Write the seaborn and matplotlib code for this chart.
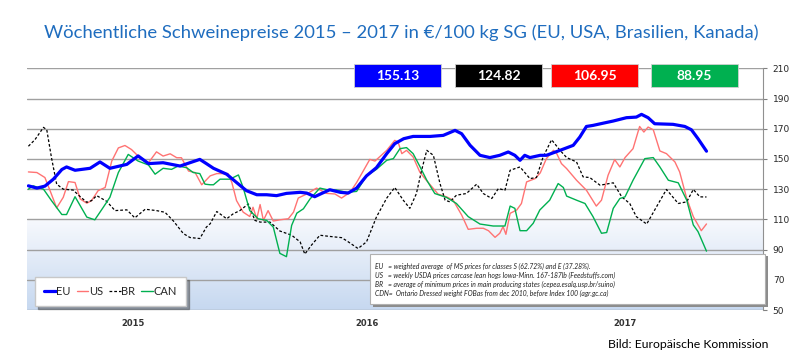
import numpy as np
import pandas as pd
import seaborn as sns
import matplotlib.pyplot as plt
from matplotlib.patches import Rectangle
from matplotlib.colors import LinearSegmentedColormap
from matplotlib.lines import Line2D

# weekly prices, x = weeks since start of 2015
eu_weeks = [0.3, 2.1, 3.8, 5.6, 7.4, 8.4, 10.2, 13.4, 15.5, 17.6, 21.2, 23.6, 25.8, 28.9, 32.5,
            34.6, 36.7, 38.1, 39.6, 42.4, 44.5, 46.6, 48.8, 50.9, 53.0, 55.1, 58.0, 59.4, 61.1,
            62.6, 64.3, 66.5, 68.2, 70.0, 72.1, 74.2, 76.4, 78.1, 80.0, 82.0, 85.6, 88.4, 90.9,
            92.3, 94.1, 96.2, 98.3, 100.4, 102.2, 103.6, 104.7, 105.7, 106.8, 109.0, 110.3,
            113.2, 116.0, 117.4, 118.8, 120.2, 122.4, 124.5, 127.3, 129.4, 130.5, 131.9, 133.3,
            137.2, 139.7, 141.1, 142.5, 144.3]
eu_values = [132.2, 130.7, 132.0, 136.6, 143.0, 144.7, 142.5, 143.8, 148.0, 143.8, 146.4, 152.0,
             146.9, 147.5, 145.3, 147.5, 149.7, 146.9, 143.8, 139.9, 134.4, 129.0, 126.3, 126.3,
             125.7, 127.2, 127.9, 127.4, 125.0, 127.2, 129.6, 127.9, 127.4, 130.7, 138.8, 144.2,
             153.5, 160.1, 163.4, 164.9, 164.9, 165.6, 168.9, 166.7, 159.0, 152.4, 150.9, 152.4,
             154.6, 152.4, 149.1, 152.4, 150.9, 152.4, 152.4, 155.7, 159.0, 164.5, 171.5, 172.2,
             173.7, 175.1, 177.3, 177.7, 179.5, 177.3, 173.3, 172.9, 171.5, 169.3, 163.4, 155.13]

us_weeks = [0.3, 2.1, 3.8, 4.9, 6.3, 7.7, 8.8, 10.2, 11.3, 12.7, 13.7, 15.1, 16.6, 18.0, 19.4,
            20.8, 22.2, 23.6, 25.8, 27.5, 28.9, 30.4, 31.8, 32.8, 34.3, 35.7, 37.1, 38.9, 40.3,
            42.7, 43.5, 44.5, 45.9, 47.3, 48.0, 48.8, 49.5, 50.2, 51.2, 52.3, 53.7, 55.5, 56.6,
            57.6, 59.4, 61.5, 63.6, 65.4, 66.8, 68.6, 70.0, 71.4, 72.8, 73.9, 76.4, 78.1, 78.8,
            79.6, 80.6, 82.0, 83.4, 84.5, 86.3, 87.3, 89.1, 90.5, 92.3, 93.7, 95.5, 96.9, 98.0,
            99.4, 100.4, 101.1, 101.7, 102.6, 104.0, 105.0, 106.1, 107.9, 109.0, 110.3, 111.8,
            112.5, 113.5, 114.6, 116.7, 118.8, 120.9, 122.0, 123.4, 124.8, 125.9, 127.0, 128.7,
            130.1, 131.0, 131.9, 133.0, 134.4, 135.8, 137.6, 138.6, 140.1, 141.5, 143.2, 144.3]
us_values = [141.4, 141.0, 137.7, 129.0, 117.6, 124.6, 135.0, 134.4, 123.5, 120.7, 122.4, 129.0,
             131.1, 148.6, 157.3, 158.9, 156.2, 151.9, 147.5, 154.7, 151.9, 153.4, 150.8, 150.8,
             142.0, 141.0, 132.9, 138.8, 140.3, 140.3, 134.4, 122.4, 114.8, 111.9, 118.0, 110.4,
             119.8, 109.3, 115.8, 108.9, 109.7, 110.4, 114.8, 124.1, 126.8, 130.7, 127.2, 126.8,
             124.1, 127.9, 134.4, 142.0, 149.7, 148.6, 155.7, 162.3, 161.2, 153.5, 155.7, 151.3,
             141.4, 137.0, 130.4, 126.7, 124.9, 122.7, 112.9, 103.4, 104.1, 104.1, 102.5, 98.1,
             100.8, 105.2, 100.1, 114.0, 116.2, 120.5, 134.8, 137.0, 140.8, 150.2, 155.7, 153.5,
             146.9, 143.6, 135.9, 129.3, 118.8, 122.7, 139.2, 149.6, 144.7, 150.9, 156.8, 171.5,
             167.8, 171.1, 169.3, 155.3, 153.5, 148.0, 141.4, 123.8, 111.8, 102.5, 106.95]

br_weeks = [0.3, 1.7, 3.5, 4.2, 5.2, 6.3, 7.7, 9.8, 11.3, 12.7, 13.7, 14.8, 16.9, 18.7, 21.2,
            22.9, 25.1, 27.5, 29.3, 31.1, 33.2, 34.6, 36.7, 38.1, 38.9, 40.3, 42.4, 43.8, 45.2,
            47.0, 48.4, 49.5, 51.6, 53.7, 56.2, 58.0, 59.0, 60.4, 62.2, 64.0, 66.8, 67.9, 70.3,
            72.1, 74.2, 76.4, 78.1, 79.9, 81.3, 82.7, 83.8, 84.9, 86.3, 87.7, 88.8, 89.8, 91.2,
            93.3, 95.5, 96.9, 98.7, 100.1, 101.5, 102.6, 104.7, 106.8, 108.2, 109.6, 111.4,
            113.2, 114.6, 116.7, 118.1, 119.5, 121.7, 124.5, 126.3, 128.0, 129.4, 131.6, 133.7,
            135.8, 138.3, 140.1, 141.5, 142.9, 144.3]
br_values = [158.4, 162.8, 170.9, 169.3, 150.8, 133.3, 130.0, 129.4, 125.0, 121.3, 122.4, 125.7,
             122.0, 115.8, 116.3, 111.0, 116.7, 115.8, 114.7, 108.9, 100.6, 98.0, 97.3, 104.9,
             107.1, 115.2, 110.4, 113.7, 115.8, 120.2, 109.3, 108.2, 108.2, 102.3, 99.5, 95.1,
             87.0, 92.9, 99.5, 98.8, 97.9, 95.8, 90.7, 95.1, 111.5, 124.1, 131.1, 122.7, 117.3,
             127.1, 142.5, 155.7, 152.4, 133.7, 122.7, 121.6, 126.0, 127.1, 133.3, 127.1, 123.8,
             130.4, 129.3, 142.5, 144.7, 137.0, 137.7, 151.3, 162.7, 155.7, 150.9, 148.0, 138.1,
             137.7, 132.6, 134.2, 124.9, 120.5, 111.8, 106.9, 118.4, 129.8, 120.5, 121.6, 129.8,
             124.9, 124.82]

can_weeks = [0.3, 1.3, 3.5, 5.2, 7.4, 8.4, 10.2, 12.7, 14.4, 16.2, 17.6, 19.4, 21.5, 23.6, 25.8,
             27.2, 28.9, 30.7, 32.1, 33.9, 35.3, 36.7, 37.8, 38.9, 39.6, 41.0, 43.1, 44.9, 45.9,
             47.3, 49.1, 50.9, 52.3, 53.7, 55.1, 56.2, 57.3, 58.7, 60.1, 62.2, 64.0, 65.7, 67.9,
             70.0, 72.1, 74.2, 76.4, 77.8, 79.2, 80.6, 82.0, 83.4, 84.9, 86.6, 89.1, 91.2, 93.7,
             96.2, 99.0, 101.5, 102.6, 103.6, 104.7, 106.1, 107.5, 108.9, 111.0, 112.8, 113.9,
             114.6, 116.7, 118.5, 120.2, 122.0, 123.1, 124.5, 125.9, 127.0, 128.7, 131.2, 133.0,
             134.4, 136.2, 138.3, 140.1, 141.5, 142.5, 144.3]
can_values = [130.0, 132.2, 130.0, 122.4, 113.2, 113.2, 125.0, 111.5, 109.7, 118.0, 124.6, 141.0,
              153.0, 148.6, 146.0, 139.9, 143.8, 143.1, 145.3, 144.2, 141.0, 140.3, 133.3, 132.9,
              132.9, 136.6, 136.6, 139.4, 131.1, 115.8, 110.4, 109.3, 104.9, 87.5, 85.3, 106.0,
              114.1, 117.0, 123.5, 130.7, 129.4, 129.4, 127.9, 128.5, 138.8, 143.1, 149.1, 150.2,
              156.8, 157.5, 153.5, 145.2, 135.9, 127.1, 124.5, 120.5, 111.8, 106.9, 105.6, 105.6,
              118.8, 117.3, 102.5, 102.5, 107.4, 116.2, 122.7, 133.7, 131.1, 125.4, 122.7, 120.5,
              111.8, 100.8, 101.3, 117.3, 123.8, 124.9, 135.9, 150.2, 150.9, 144.7, 135.9, 134.2,
              122.7, 106.3, 101.9, 88.95]

latest = ["155.13", "124.82", "106.95", "88.95"]
year_labels = ["2015", "2016", "2017"]
year_label_pos = [22.5, 72.3, 127.0]
year_bounds = [0, 52.3, 104.2, 156.0]

notes = [
    "EU   = weighted average  of MS prices for classes S (62.72%) and E (37.28%).",
    "US   = weekly USDA prices carcase lean hogs Iowa-Minn. 167-187lb (Feedstuffs.com)",
    "BR   = average of minimum prices in main producing states (cepea.esalq.usp.br/suino)",
    "CDN=  Ontario Dressed weight FOBas from dec 2010, before Index 100 (agr.gc.ca)",
]

sns.set_style("white")
plt.rcParams["font.family"] = ["Lato", "DejaVu Sans"]

W, H = 800, 359
fig = plt.figure(figsize=(8, 3.59), dpi=100)
ax = fig.add_axes([27 / W, 1 - 310 / H, (763 - 27) / W, (310 - 68.3) / H])

# light blue gradient in the lower part of the plot (white at 110, blue at 50)
grad = np.linspace(0, 1, 100).reshape(-1, 1)
cmap = LinearSegmentedColormap.from_list("bg", ["#f7f9fd", "#c6d8f0"])
ax.imshow(grad, extent=[0, 156.3, 50, 110], origin="upper", aspect="auto", cmap=cmap,
          zorder=0)

sns.lineplot(x=us_weeks, y=us_values, ax=ax, color="#ff7373", lw=1.0, zorder=3)
sns.lineplot(x=br_weeks, y=br_values, ax=ax, color="black", lw=0.9, zorder=3,
             linestyle=(0, (2.2, 1.6)))
sns.lineplot(x=can_weeks, y=can_values, ax=ax, color="#00b050", lw=1.0, zorder=3)
sns.lineplot(x=eu_weeks, y=eu_values, ax=ax, color="#0000ff", lw=2.3, zorder=4)

ax.set_xlim(0, 156.3)
ax.set_ylim(50, 210)
ax.set_yticks(range(50, 211, 20))
ax.yaxis.tick_right()
ax.yaxis.grid(True, color="#a0a0a0", lw=1)
ax.tick_params(axis="y", length=3, color="#808080", labelsize=6.5, pad=4,
               labelfontfamily="DejaVu Sans")
for s in ["top", "left"]:
    ax.spines[s].set_visible(False)
ax.spines["right"].set_color("#909090")
ax.spines["bottom"].set_position(("outward", 5.5))
ax.spines["bottom"].set_visible(False)

ax.set_xticks(year_bounds)
ax.set_xticklabels([])
ax.set_xticks(year_label_pos, minor=True)
ax.set_xticklabels(year_labels, minor=True, fontsize=6, fontweight="bold",
                   family="DejaVu Sans", color="#333333")
ax.tick_params(axis="x", which="major", length=7, width=1.2, color="#404040")
ax.tick_params(axis="x", which="minor", length=0, pad=1.0)
ax.set_xlabel("")
ax.set_ylabel("")

handles = [Line2D([], [], color="#0000ff", lw=2.3),
           Line2D([], [], color="#ff7373", lw=1.0),
           Line2D([], [], color="black", lw=0.9, linestyle=(0, (2.2, 1.6))),
           Line2D([], [], color="#00b050", lw=1.0)]
leg = ax.legend(handles, ["EU", "US", "BR", "CAN"], ncol=4, loc="lower left",
                bbox_to_anchor=(35 / W, 1 - 306 / H), bbox_transform=fig.transFigure,
                fontsize=8, handlelength=1.05, handletextpad=0.05, columnspacing=0.55,
                frameon=True, fancybox=False, shadow=True, borderpad=0.8,
                borderaxespad=0)
leg.get_frame().set_edgecolor("#c8c8c8")
leg.set_zorder(6)

# notes box
fig.patches.append(Rectangle((373 / W, 1 - 307 / H), 395 / W, 51 / H, transform=fig.transFigure,
                             facecolor="#8c8c8c", edgecolor="none", zorder=5))
fig.patches.append(Rectangle((370 / W, 1 - 304 / H), 395 / W, 50 / H, transform=fig.transFigure,
                             facecolor="white", edgecolor="#b0b0b0", lw=0.8, zorder=6))
for i, line in enumerate(notes):
    fig.text(375 / W, 1 - (266 + i * 9) / H, line, fontsize=4.9, style="italic",
             family="Lato", va="center", color="#222222", zorder=7)

# value boxes
box_x = [354, 455, 551, 651]
box_c = ["#0000ff", "#000000", "#ff0000", "#00b050"]
for bx, c, txt in zip(box_x, box_c, latest):
    fig.patches.append(Rectangle((bx / W, 1 - 87 / H), 87 / W, 23 / H, transform=fig.transFigure,
                                 facecolor=c, edgecolor="#d0d0d0", lw=0.6, zorder=5))
    fig.text((bx + 43.5) / W, 1 - 75.5 / H, txt, color="white", fontsize=10,
             fontweight="bold", ha="center", va="center", zorder=6)

fig.text(401 / W, 1 - 33 / H,
         "Wöchentliche Schweinepreise 2015 – 2017 in €/100 kg SG (EU, USA, Brasilien, Kanada)",
         ha="center", va="center", fontsize=13.3, color="#1f6dbf")
fig.text(768 / W, 1 - 345 / H, "Bild: Europäische Kommission", ha="right", va="center",
         fontsize=8.8, color="black")

fig.savefig("out.png", dpi=100)
